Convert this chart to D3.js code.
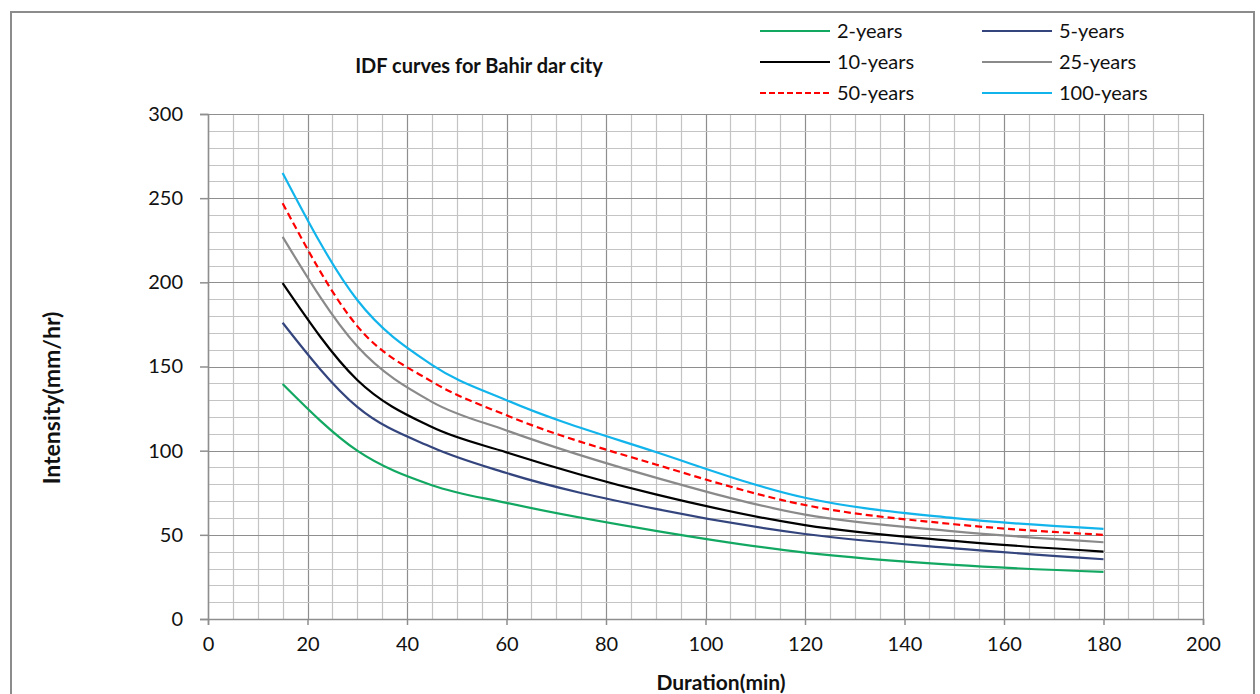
<!DOCTYPE html>
<html>
<head>
<meta charset="utf-8">
<script src="https://cdn.jsdelivr.net/npm/d3@7"></script>
<style>
  body { margin: 0; background: #fff; }
  text { font-family: Lato, "Open Sans", sans-serif; fill: #111; }
</style>
</head>
<body>
<div id="chart"></div>
<script>
// Durations (min) and intensities (mm/hr)
var durations = [15, 30, 45, 60, 90, 120, 150, 180];
var yr2   = [139.6, 100, 79.5, 69, 52.4, 39.4, 32.1, 28];
var yr5   = [176, 126, 102, 86.7, 65.4, 50.5, 42, 35.5];
var yr10  = [199.5, 142, 114, 99, 74, 55.8, 46.4, 40];
var yr25  = [227, 162, 129, 112, 84, 62, 52.1, 45.6];
var yr50  = [247, 174, 141, 121, 91.8, 67.7, 56.3, 50];
var yr100 = [265, 189.5, 151, 130, 99.2, 72, 59.9, 53.5];

var seriesNames = ["2-years", "5-years", "10-years", "25-years", "50-years", "100-years"];
var seriesValues = [yr2, yr5, yr10, yr25, yr50, yr100];
var xTicks = [0, 20, 40, 60, 80, 100, 120, 140, 160, 180, 200];
var yTicks = [0, 50, 100, 150, 200, 250, 300];

var colors = ["#12a862", "#34457e", "#000000", "#8a8a8a", "#ff0000", "#12b4ec"];

var width = 1260, height = 694;
var margin = { top: 114, right: 57, bottom: 75, left: 208 };

var svg = d3.select("#chart")
  .append("svg")
  .attr("width", width)
  .attr("height", height);

// outer frame
svg.append("rect")
  .attr("x", 11).attr("y", 12)
  .attr("width", 1243).attr("height", 700)
  .attr("fill", "none")
  .attr("stroke", "#8c8c8c")
  .attr("stroke-width", 2);

var x = d3.scaleLinear().domain([0, 200]).range([margin.left, width - margin.right]);
var y = d3.scaleLinear().domain([0, 300]).range([height - margin.bottom, margin.top]);

// grid
var grid = svg.append("g");
grid.selectAll(".vx")
  .data(d3.range(0, 201, 5))
  .enter().append("line")
  .attr("x1", (d) => Math.round(x(d)) + 0.5)
  .attr("x2", (d) => Math.round(x(d)) + 0.5)
  .attr("y1", y(0)).attr("y2", y(300))
  .attr("stroke", (d) => d % 20 === 0 ? "#8e8e8e" : "#c4c4c4")
  .attr("stroke-width", 1.2);

grid.selectAll(".hy")
  .data(d3.range(0, 301, 10))
  .enter().append("line")
  .attr("y1", (d) => Math.round(y(d)) + 0.5)
  .attr("y2", (d) => Math.round(y(d)) + 0.5)
  .attr("x1", x(0)).attr("x2", x(200))
  .attr("stroke", (d) => d % 50 === 0 ? "#8e8e8e" : "#c4c4c4")
  .attr("stroke-width", 1.2);

// axes
var yAxis = svg.append("g")
  .attr("transform", "translate(" + x(0) + ",0)")
  .call(d3.axisLeft(y).tickValues(yTicks).tickSize(8).tickPadding(17));
var xAxis = svg.append("g")
  .attr("transform", "translate(0," + y(0) + ")")
  .call(d3.axisBottom(x).tickValues(xTicks).tickSize(6).tickPadding(12));

[yAxis, xAxis].forEach(function (a) {
  a.select(".domain").attr("stroke", "#8e8e8e").attr("stroke-width", 1.5);
  a.selectAll(".tick line").attr("stroke", "#8e8e8e").attr("stroke-width", 1.5);
  a.selectAll(".tick text")
    .style("font-family", "Lato, sans-serif")
    .style("font-size", "20px")
    .attr("fill", "#222");
});

// curves (smoothed lines)
var line = d3.line()
  .x((d) => x(d[0]))
  .y((d) => y(d[1]))
  .curve(d3.curveMonotoneX);

seriesValues.forEach(function (vals, i) {
  svg.append("path")
    .datum(durations.map((d, j) => [d, vals[j]]))
    .attr("fill", "none")
    .attr("stroke", colors[i])
    .attr("stroke-width", 2.2)
    .attr("stroke-dasharray", i === 4 ? "7,4" : null)
    .attr("d", line);
});

// title and axis labels
svg.append("text")
  .attr("x", 479).attr("y", 73)
  .attr("text-anchor", "middle")
  .style("font-size", "20px")
  .style("font-weight", "bold")
  .text("IDF curves for Bahir dar city");

svg.append("text")
  .attr("x", 721).attr("y", 690)
  .attr("text-anchor", "middle")
  .style("font-size", "21px")
  .style("font-weight", "bold")
  .text("Duration(min)");

svg.append("text")
  .attr("transform", "translate(60,398) rotate(-90)")
  .attr("text-anchor", "middle")
  .style("font-size", "23px")
  .style("font-weight", "bold")
  .text("Intensity(mm/hr)");

// legend
var legend = svg.selectAll(".legend")
  .data(seriesNames)
  .enter().append("g")
  .attr("class", "legend")
  .attr("transform", (d, i) => "translate(" + (i % 2 === 0 ? 760 : 982) + "," + (31 + Math.floor(i / 2) * 31) + ")");

legend.append("line")
  .attr("x1", 0).attr("x2", 70)
  .attr("stroke", (d, i) => colors[i])
  .attr("stroke-width", 2.2)
  .attr("stroke-dasharray", (d, i) => i === 4 ? "6,3" : null);

legend.append("text")
  .attr("x", 77).attr("y", 7)
  .style("font-size", "20px")
  .text((d) => d);
</script>
</body>
</html>
